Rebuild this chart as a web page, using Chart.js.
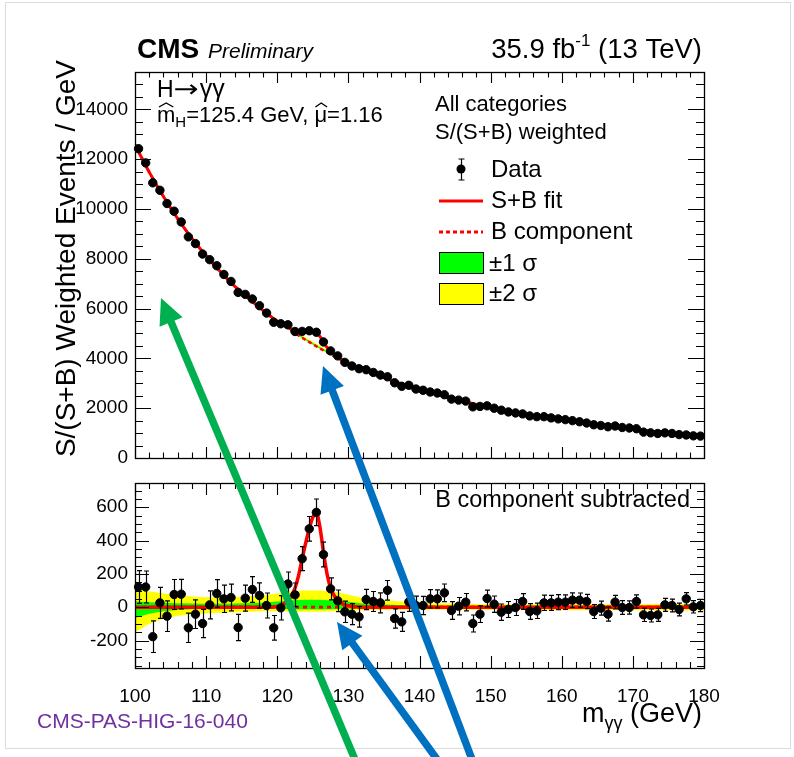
<!DOCTYPE html>
<html>
<head>
<meta charset="utf-8">
<script src="https://cdn.jsdelivr.net/npm/chart.js@4.4.1/dist/chart.umd.min.js"></script>
<style>
html, body { margin: 0; padding: 0; background: #fff; }
#wrap { position: relative; width: 794px; height: 757px; overflow: hidden; }
#wrap canvas { position: absolute; left: 0; top: 0; }
</style>
</head>
<body>
<div id="wrap">
  <canvas id="topPanel" width="794" height="757"></canvas>
  <canvas id="botPanel" width="794" height="757"></canvas>
</div>
<script>
// 1 GeV bins, centres 100.5 ... 179.5
const massBins = Array.from({ length: 80 }, (_, i) => 100.5 + i);

// S/(S+B) weighted events / GeV (upper panel)
const weightedEvents = [
  12420, 11850, 11050, 10750, 10220, 9910, 9480, 8880, 8610, 8190,
  7965, 7720, 7370, 7090, 6650, 6570, 6385, 6115, 5820, 5450,
  5390, 5350, 5080, 5085, 5110, 5050, 4660, 4300, 4100, 3840,
  3695, 3585, 3545, 3435, 3330, 3260, 3020, 2880, 2920, 2770,
  2720, 2650, 2610, 2540, 2365, 2325, 2285, 2055, 2070, 2095,
  2000, 1920, 1850, 1810, 1770, 1690, 1660, 1660, 1610, 1570,
  1540, 1500, 1455, 1405, 1335, 1305, 1255, 1285, 1225, 1205,
  1175, 1040, 1010, 985, 1010, 985, 940, 925, 890, 880
];

// data minus B component (lower panel)
const residual = [
  121, 121, -177, 26, -54, 76, 78, -124, -42, -98,
  14, 82, 50, 58, -122, 54, 106, 70, 10, -124,
  -4, 139, 74, 291, 470, 569, 316, 110, 38, -28,
  -42, -58, 46, 34, 26, 101, -68, -88, 32, 10,
  10, 50, 50, 86, -20, 6, 30, -98, -42, 52,
  18, -30, -14, -2, 34, -26, -22, 26, 26, 30,
  30, 42, 42, 34, -26, -6, -42, 30, -2, -2,
  34, -46, -50, -46, 14, 10, -14, 50, 2, 10
];

const residualErr = [
  98, 96, 95, 93, 92, 90, 89, 88, 86, 85,
  84, 83, 82, 80, 79, 78, 77, 76, 75, 74,
  73, 72, 71, 72, 74, 80, 74, 66, 65, 64,
  63, 62, 61, 60, 60, 59, 58, 57, 57, 56,
  55, 55, 54, 53, 53, 52, 52, 51, 50, 50,
  49, 49, 48, 48, 47, 47, 46, 46, 45, 45,
  44, 44, 43, 43, 42, 42, 42, 41, 41, 40,
  40, 40, 39, 39, 39, 38, 38, 37, 37, 37
];

// fit curves
const fitMass = [
  100, 102, 104, 106, 108, 110, 112, 114, 116, 118,
  119, 119.5, 120, 120.5, 121, 121.5, 122, 122.5, 123, 123.5,
  124, 124.5, 125, 125.5, 126, 126.5, 127, 127.5, 128, 128.5,
  129, 129.5, 130, 130.5, 131, 131.5, 132,
  134, 136, 138, 140, 142, 144, 146, 148, 150, 152,
  154, 156, 158, 160, 162, 164, 166, 168, 170, 172,
  174, 176, 178, 180
];
const bkgFit = [
  12580, 11480, 10500, 9610, 8820, 8120, 7480, 6900, 6400, 5925,
  5700, 5595, 5490, 5395, 5300, 5205, 5110, 5015, 4920, 4830,
  4740, 4655, 4570, 4485, 4400, 4320, 4240, 4160, 4085, 4010,
  3940, 3870, 3800, 3735, 3670, 3610, 3550,
  3330, 3120, 2930, 2760, 2600, 2440, 2290, 2150, 2020, 1900,
  1790, 1690, 1600, 1520, 1440, 1370, 1300, 1230, 1160, 1090,
  1030, 980, 930, 880
];
const sigFit = [
  0, 0, 0, 0, 0, 0, 0, 0, 0, 0,
  0, 2, 5, 12, 22, 40, 70, 115, 190, 290,
  385, 470, 540, 565, 480, 330, 200, 115, 70, 42,
  25, 14, 8, 5, 3, 1, 0,
  0, 0, 0, 0, 0, 0, 0, 0, 0, 0,
  0, 0, 0, 0, 0, 0, 0, 0, 0, 0,
  0, 0, 0, 0
];
const bSubMass = [100, 180];
const bSubtracted = [0, 0];

// background uncertainty bands
const bandMass = [100, 102, 104, 106, 108, 110, 114, 118, 120, 122, 124, 126, 128, 130, 132, 136, 140, 146, 150, 160, 170, 180];
const yellowHi = [110, 95, 82, 72, 64, 60, 60, 70, 82, 95, 100, 100, 92, 75, 55, 38, 25, 20, 18, 18, 18, 20];
const yellowLo = [-150, -100, -70, -52, -42, -36, -30, -25, -24, -26, -28, -28, -25, -20, -18, -16, -15, -15, -16, -18, -18, -20];
const greenHi = [35, 30, 26, 24, 22, 21, 22, 26, 34, 42, 44, 44, 40, 32, 22, 15, 10, 9, 8, 8, 8, 9];
const greenLo = [-65, -40, -24, -17, -13, -12, -10, -8, -9, -12, -14, -14, -12, -10, -9, -8, -8, -8, -8, -8, -8, -9];

const topTicks = [0, 2000, 4000, 6000, 8000, 10000, 12000, 14000];
const botTicks = [-200, 0, 200, 400, 600];
const massTicks = [100, 110, 120, 130, 140, 150, 160, 170, 180];

const FONT = "'Liberation Sans', Arial, Helvetica, sans-serif";
const pts = (xs, ys) => xs.map((x, i) => ({ x, y: ys[i] }));
const bkgAt = m => bkgFit[fitMass.indexOf(m)];

function text(ctx, s, x, y, size, opt = {}) {
  ctx.font = (opt.style || '') + ' ' + size + 'px ' + (opt.family || FONT);
  ctx.fillStyle = opt.color || '#000';
  ctx.textAlign = opt.align || 'left';
  ctx.textBaseline = 'alphabetic';
  ctx.fillText(s, x, y);
  return ctx.measureText(s).width;
}

function hat(ctx, x0, x1, y) {
  ctx.beginPath();
  ctx.moveTo(x0, y + 4);
  ctx.lineTo((x0 + x1) / 2, y);
  ctx.lineTo(x1, y + 4);
  ctx.lineWidth = 1.4;
  ctx.strokeStyle = '#000';
  ctx.stroke();
}

function arrow(ctx, x0, y0, x1, y1, color) {
  const a = Math.atan2(y1 - y0, x1 - x0);
  const hl = 26, hw = 25;
  const bx = x1 - hl * Math.cos(a), by = y1 - hl * Math.sin(a);
  ctx.strokeStyle = color;
  ctx.lineWidth = 7.5;
  ctx.beginPath();
  ctx.moveTo(x0, y0);
  ctx.lineTo(bx + 2 * Math.cos(a), by + 2 * Math.sin(a));
  ctx.stroke();
  ctx.fillStyle = color;
  ctx.beginPath();
  ctx.moveTo(x1, y1);
  ctx.lineTo(bx + hw / 2 * Math.sin(a), by - hw / 2 * Math.cos(a));
  ctx.lineTo(bx - hw / 2 * Math.sin(a), by + hw / 2 * Math.cos(a));
  ctx.closePath();
  ctx.fill();
}

// ROOT style frame with inward ticks on all four sides
const rootFrame = {
  id: 'rootFrame',
  afterDatasetsDraw(chart, args, o) {
    const { ctx, chartArea: a, scales: { x, y } } = chart;
    ctx.save();
    ctx.strokeStyle = '#000';
    ctx.lineWidth = 1.1;
    ctx.beginPath();
    for (let v = 100; v <= 180; v += 2) {
      const px = Math.round(x.getPixelForValue(v)) + 0.5;
      const len = v % 10 === 0 ? o.xLen : o.xLen / 2;
      ctx.moveTo(px, a.bottom); ctx.lineTo(px, a.bottom - len);
      ctx.moveTo(px, a.top); ctx.lineTo(px, a.top + len);
    }
    for (let v = Math.ceil(y.min / o.yMinor) * o.yMinor; v <= y.max; v += o.yMinor) {
      const py = Math.round(y.getPixelForValue(v)) + 0.5;
      const len = v % o.yMajor === 0 ? o.yLen : o.yLen / 2;
      ctx.moveTo(a.left, py); ctx.lineTo(a.left + len, py);
      ctx.moveTo(a.right, py); ctx.lineTo(a.right - len, py);
    }
    ctx.stroke();
    ctx.lineWidth = 1.3;
    ctx.strokeRect(Math.round(a.left) + 0.5, Math.round(a.top) + 0.5, Math.round(a.right - a.left), Math.round(a.bottom - a.top));
    ctx.restore();
  }
};

const errorBars = {
  id: 'errorBars',
  beforeDatasetDraw(chart, args, o) {
    if (args.index !== 0) return;
    const { ctx, scales: { x, y } } = chart;
    const ds = chart.data.datasets[0];
    ctx.save();
    ctx.strokeStyle = '#000';
    ctx.lineWidth = 1.2;
    ctx.beginPath();
    ds.data.forEach((p, i) => {
      const px = Math.round(x.getPixelForValue(p.x)) + 0.5;
      const hi = y.getPixelForValue(p.y + ds.errors[i]);
      const lo = y.getPixelForValue(p.y - ds.errors[i]);
      ctx.moveTo(px, hi); ctx.lineTo(px, lo);
      ctx.moveTo(px - 2.5, hi); ctx.lineTo(px + 2.5, hi);
      ctx.moveTo(px - 2.5, lo); ctx.lineTo(px + 2.5, lo);
    });
    ctx.stroke();
    ctx.restore();
  }
};

const topLabels = {
  id: 'topLabels',
  afterDraw(chart) {
    const ctx = chart.ctx;
    ctx.save();
    text(ctx, 'CMS', 137, 58, 28, { style: 'bold' });
    text(ctx, 'Preliminary', 208, 58, 21, { style: 'italic' });
    // luminosity, right aligned
    ctx.font = '27.5px ' + FONT;
    const w1 = ctx.measureText('35.9 fb').width, w3 = ctx.measureText(' (13 TeV)').width;
    ctx.font = '17px ' + FONT;
    const w2 = ctx.measureText('-1').width;
    let lx = 702 - (w1 + w2 + w3);
    lx += text(ctx, '35.9 fb', lx, 58, 27.5);
    lx += text(ctx, '-1', lx, 46, 17);
    text(ctx, ' (13 TeV)', lx, 58, 27.5);

    // H -> gamma gamma
    let hx = 157;
    hx += text(ctx, 'H', hx, 97, 23);
    ctx.save();
    ctx.translate(hx, 97);
    ctx.scale(1.25, 1);
    const aw = text(ctx, '\u2192', 0, 0, 24, { family: "'DejaVu Sans', sans-serif" });
    ctx.restore();
    hx += aw * 1.25 + 1;
    text(ctx, '\u03b3\u03b3', hx, 97, 25);
    let mx = 157;
    const mw = text(ctx, 'm', mx, 122, 22);
    hat(ctx, mx + 2, mx + mw - 2, 103);
    mx += mw;
    mx += text(ctx, 'H', mx, 127, 15);
    mx += text(ctx, '=125.4 GeV, ', mx, 122, 22);
    const uw = text(ctx, '\u03bc', mx, 122, 22);
    hat(ctx, mx + 1, mx + uw, 103);
    mx += uw;
    text(ctx, '=1.16', mx, 122, 22);

    text(ctx, 'All categories', 435, 111, 22);
    text(ctx, 'S/(S+B) weighted', 435, 139, 22);

    // legend
    ctx.fillStyle = '#000';
    ctx.beginPath(); ctx.arc(461, 169, 4.5, 0, Math.PI * 2); ctx.fill();
    ctx.lineWidth = 1.2; ctx.strokeStyle = '#000';
    ctx.beginPath();
    ctx.moveTo(461.5, 159); ctx.lineTo(461.5, 180);
    ctx.moveTo(458.5, 159); ctx.lineTo(464.5, 159);
    ctx.moveTo(458.5, 180); ctx.lineTo(464.5, 180);
    ctx.stroke();
    ctx.strokeStyle = '#ff0000'; ctx.lineWidth = 3;
    ctx.beginPath(); ctx.moveTo(439, 201); ctx.lineTo(483, 201); ctx.stroke();
    ctx.setLineDash([4, 3]);
    ctx.beginPath(); ctx.moveTo(439, 232); ctx.lineTo(483, 232); ctx.stroke();
    ctx.setLineDash([]);
    ctx.lineWidth = 1; ctx.strokeStyle = '#000';
    ctx.fillStyle = '#00ff00'; ctx.fillRect(439, 252, 44, 21); ctx.strokeRect(439.5, 252.5, 44, 21);
    ctx.fillStyle = '#ffff00'; ctx.fillRect(439, 283, 44, 21); ctx.strokeRect(439.5, 283.5, 44, 21);
    text(ctx, 'Data', 491, 177, 24);
    text(ctx, 'S+B fit', 491, 208, 24);
    text(ctx, 'B component', 491, 239, 24);
    text(ctx, '\u00b11 \u03c3', 489, 271, 24);
    text(ctx, '\u00b12 \u03c3', 489, 301, 24);

    // y axis title
    ctx.translate(75, 60);
    ctx.rotate(-Math.PI / 2);
    text(ctx, 'S/(S+B) Weighted Events / GeV', 0, 0, 28, { align: 'right' });
    ctx.restore();
  }
};

const botLabels = {
  id: 'botLabels',
  afterDraw(chart) {
    const ctx = chart.ctx;
    ctx.save();
    text(ctx, 'B component subtracted', 690, 507, 23.5, { align: 'right' });
    let tx = 582;
    tx += text(ctx, 'm', tx, 722, 27);
    tx += text(ctx, '\u03b3\u03b3', tx, 729, 18);
    text(ctx, ' (GeV)', tx, 722, 27);
    text(ctx, 'CMS-PAS-HIG-16-040', 37, 728, 21, { color: '#7030a0' });
    // page border
    ctx.strokeStyle = '#dcdcdc';
    ctx.lineWidth = 1;
    ctx.strokeRect(5.5, 2.5, 785, 746);
    // annotation arrows
    arrow(ctx, 356, 762, 161, 298, '#00b050');
    arrow(ctx, 473, 762, 323, 366, '#0070c0');
    arrow(ctx, 439, 762, 337, 622, '#0070c0');
    ctx.restore();
  }
};

function yAxis(min, max, tickList) {
  return {
    type: 'linear', min, max,
    afterBuildTicks: s => { s.ticks = tickList.map(v => ({ value: v })); },
    afterFit: s => { s.width = 135; },
    grid: { display: false, drawTicks: false },
    border: { display: false },
    ticks: { font: { family: FONT, size: 19 }, color: '#000', padding: 7, callback: v => String(v) }
  };
}

const bandSets = (base) => [
  { data: pts(bandMass, greenHi.map((v, i) => base(bandMass[i]) + v)), fill: '+1', backgroundColor: '#00ff00', borderWidth: 0, pointRadius: 0, order: 3 },
  { data: pts(bandMass, greenLo.map((v, i) => base(bandMass[i]) + v)), borderWidth: 0, pointRadius: 0, order: 3 },
  { data: pts(bandMass, yellowHi.map((v, i) => base(bandMass[i]) + v)), fill: '+1', backgroundColor: '#ffff00', borderWidth: 0, pointRadius: 0, order: 4 },
  { data: pts(bandMass, yellowLo.map((v, i) => base(bandMass[i]) + v)), borderWidth: 0, pointRadius: 0, order: 4 }
];

const pointStyle = { showLine: false, pointRadius: 4.2, pointBackgroundColor: '#000', pointBorderColor: '#000', pointBorderWidth: 1, clip: 8, order: 0 };

new Chart(document.getElementById('topPanel'), {
  type: 'line',
  data: {
    datasets: [
      Object.assign({ label: 'Data', data: pts(massBins, weightedEvents), errors: residualErr }, pointStyle),
      { label: 'S+B fit', data: pts(fitMass, bkgFit.map((b, i) => b + sigFit[i])), borderColor: '#ff0000', borderWidth: 3, pointRadius: 0, cubicInterpolationMode: 'monotone', order: 1 },
      { label: 'B component', data: pts(fitMass, bkgFit), borderColor: '#ff0000', borderWidth: 2.5, borderDash: [4, 3], pointRadius: 0, cubicInterpolationMode: 'monotone', order: 2 },
      ...bandSets(bkgAt)
    ]
  },
  options: {
    responsive: false,
    animation: false,
    layout: { padding: { left: 0, top: 72, right: 90, bottom: 299 } },
    plugins: { legend: { display: false }, tooltip: { enabled: false },
      rootFrame: { xLen: 11, yLen: 16, yMinor: 500, yMajor: 2000 } },
    scales: {
      x: { type: 'linear', min: 100, max: 180, display: false },
      y: yAxis(0, 15500, topTicks)
    }
  },
  plugins: [errorBars, rootFrame, topLabels]
});

new Chart(document.getElementById('botPanel'), {
  type: 'line',
  data: {
    datasets: [
      Object.assign({ label: 'Data', data: pts(massBins, residual), errors: residualErr }, pointStyle),
      { label: 'S+B fit', data: pts(fitMass, sigFit), borderColor: '#ff0000', borderWidth: 3.5, pointRadius: 0, cubicInterpolationMode: 'monotone', order: 1 },
      { label: 'B component', data: pts(bSubMass, bSubtracted), borderColor: '#ff0000', borderWidth: 3, borderDash: [4, 4], pointRadius: 0, order: 2 },
      ...bandSets(() => 0)
    ]
  },
  options: {
    responsive: false,
    animation: false,
    layout: { padding: { left: 0, top: 483, right: 90, bottom: 49 } },
    plugins: { legend: { display: false }, tooltip: { enabled: false },
      rootFrame: { xLen: 12, yLen: 14, yMinor: 50, yMajor: 200 } },
    scales: {
      x: {
        type: 'linear', min: 100, max: 180,
        afterBuildTicks: s => { s.ticks = massTicks.map(v => ({ value: v })); },
        afterFit: s => { s.height = 40; },
        grid: { display: false, drawTicks: false },
        border: { display: false },
        ticks: { font: { family: FONT, size: 19 }, color: '#000', padding: 17, autoSkip: false, maxRotation: 0 }
      },
      y: yAxis(-365, 745, botTicks)
    }
  },
  plugins: [errorBars, rootFrame, botLabels]
});
</script>
</body>
</html>
